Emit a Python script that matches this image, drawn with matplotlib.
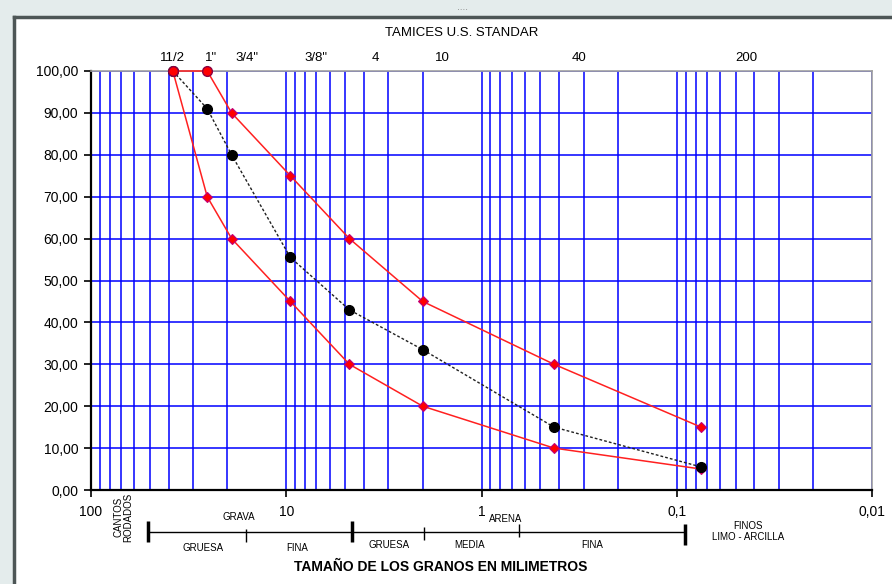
import matplotlib
matplotlib.use('Agg')
import matplotlib.pyplot as plt
from matplotlib.ticker import FixedLocator, FuncFormatter, NullFormatter
from matplotlib.lines import Line2D
from matplotlib.patches import Rectangle
import numpy as np

plt.rcParams['font.family'] = ['Liberation Sans', 'DejaVu Sans']

## datos de la granulometria
sieve_labels = ['11/2', '1"', '3/4"', '3/8"', '4', '10', '40', '200']
sieve_mm = [38.1, 25.4, 19.05, 9.525, 4.75, 2.0, 0.425, 0.075]
upper = [100, 100, 90, 75, 60, 45, 30, 15]
lower = [100, 70, 60, 45, 30, 20, 10, 5]
sample = [100, 91, 80, 55.5, 43, 33.5, 15, 5.5]

x_major = [100, 10, 1, 0.1, 0.01]
x_major_labels = ['100', '10', '1', '0,1', '0,01']

W, H = 892, 584
fig = plt.figure(figsize=(W / 100, H / 100), dpi=100)

def px(x, y):
    # pixel (from top-left) to figure fraction
    return x / W, 1 - y / H

## marco tipo excel
fig.add_artist(Rectangle((0, 1 - 15 / H), 1, 15 / H, transform=fig.transFigure,
                         color='#e4ecec', zorder=0))
fig.add_artist(Rectangle((0, 0), 12 / W, 1, transform=fig.transFigure,
                         color='#e4ecec', zorder=0))
fig.add_artist(Line2D([14 / W, 14 / W], [0, 1 - 17 / H], transform=fig.transFigure,
                      color='#4d5656', lw=2.5))
fig.add_artist(Line2D([14 / W, 1], [1 - 17 / H, 1 - 17 / H], transform=fig.transFigure,
                      color='#4d5656', lw=2.5))
fig.text(*px(462, 11), '····', fontsize=6, color='#777777', ha='center', va='center')

l, t = px(91, 71)
r, b = px(872, 490)
ax = fig.add_axes([l, b, r - l, t - b])

ax.set_xscale('log')
ax.set_xlim(100, 0.01)
ax.set_ylim(0, 100)

## rejilla azul
minor = [m * 10.0 ** e for e in range(-2, 2) for m in range(2, 10)]
ax.xaxis.set_major_locator(FixedLocator(x_major))
ax.xaxis.set_minor_locator(FixedLocator(minor))
ax.xaxis.set_major_formatter(FuncFormatter(lambda v, p: x_major_labels[x_major.index(v)] if v in x_major else ''))
ax.xaxis.set_minor_formatter(NullFormatter())
ax.set_yticks(np.arange(0, 101, 10))
ax.yaxis.set_major_formatter(FuncFormatter(lambda v, p: ('%.2f' % v).replace('.', ',')))
ax.grid(True, which='both', axis='x', color='#0000ff', lw=1.1)
ax.grid(True, which='major', axis='y', color='#0000ff', lw=1.1)
ax.set_axisbelow(True)

ax.tick_params(axis='x', which='major', direction='out', length=5, width=1.2, pad=6, labelsize=10)
ax.tick_params(axis='x', which='minor', length=0)
ax.tick_params(axis='y', direction='out', length=5, width=1.2, pad=4, labelsize=10)

for s in ['left', 'bottom']:
    ax.spines[s].set_color('black')
    ax.spines[s].set_linewidth(1.6)
for s in ['top', 'right']:
    ax.spines[s].set_color('#a0a0a0')
    ax.spines[s].set_linewidth(1.2)

## curvas
ax.plot(sieve_mm, upper, color='#ff2020', lw=1.1, marker='D', ms=5,
        mfc='#ff0000', mec='#c0007a', mew=0.8, zorder=3, clip_on=False)
ax.plot(sieve_mm, lower, color='#ff2020', lw=1.1, marker='D', ms=5,
        mfc='#ff0000', mec='#c0007a', mew=0.8, zorder=3, clip_on=False)
ax.plot(sieve_mm, sample, color='#202020', lw=1.0, ls=(0, (2, 1.5)), marker='o', ms=7,
        mfc='black', mec='black', zorder=4, clip_on=False)
# puntos al 100 % del limite superior (circulos rojos)
top = [i for i, v in enumerate(upper) if v == 100]
ax.plot([sieve_mm[i] for i in top], [upper[i] for i in top], ls='none', marker='o', ms=7,
        mfc='#ff0000', mec='#8a0040', mew=1.0, zorder=5, clip_on=False)

## etiquetas de tamices
offsets = [0, 4, 15, 26, 26, 20, 25, 45]
for lab, xv, off in zip(sieve_labels, sieve_mm, offsets):
    ax.annotate(lab, xy=(xv, 1), xycoords=('data', 'axes fraction'),
                xytext=(off * 0.72, 9.5), textcoords='offset points',
                ha='center', va='center', fontsize=9.5)

fig.text(*px(462, 33), 'TAMICES U.S. STANDAR', ha='center', va='center', fontsize=9.5)
fig.text(*px(441, 567), 'TAMAÑO DE LOS GRANOS EN MILIMETROS', ha='center', va='center',
         fontsize=10, fontweight='bold')

## clasificacion por tamano
def seg(x0, y0, x1, y1, lw):
    fig.add_artist(Line2D([x0 / W, x1 / W], [1 - y0 / H, 1 - y1 / H],
                          transform=fig.transFigure, color='black', lw=lw,
                          solid_capstyle='butt'))

seg(148, 532, 685, 532, 1.0)
seg(148, 521, 148, 542, 2.5)
seg(352, 521, 352, 542, 2.5)
seg(685, 524, 685, 545, 2.5)
seg(246, 529, 246, 542, 1.0)
seg(424, 527, 424, 540, 1.0)
seg(519, 524, 519, 537, 1.0)

small = dict(ha='center', va='center', fontsize=7)
fig.text(*px(123, 517), 'CANTOS\nRODADOS', rotation=90, linespacing=0.95, **small)
fig.text(*px(239, 517), 'GRAVA', **small)
fig.text(*px(203, 548), 'GRUESA', **small)
fig.text(*px(297, 548), 'FINA', **small)
fig.text(*px(389, 545), 'GRUESA', **small)
fig.text(*px(506, 519), 'ARENA', **small)
fig.text(*px(470, 545), 'MEDIA', **small)
fig.text(*px(592, 545), 'FINA', **small)
fig.text(*px(748, 526), 'FINOS', **small)
fig.text(*px(748, 537), 'LIMO - ARCILLA', **small)

fig.savefig('out.png', dpi=100)
